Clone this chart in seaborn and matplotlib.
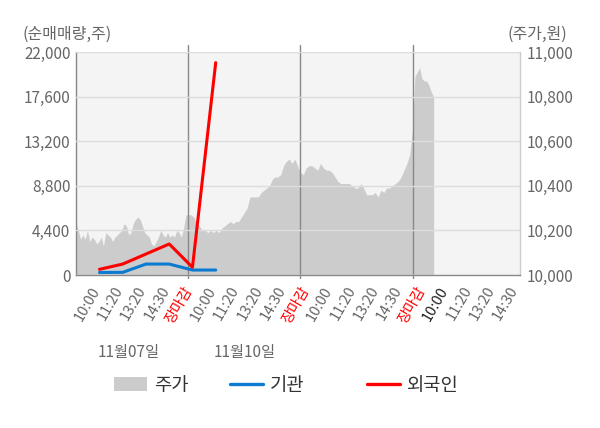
import matplotlib
matplotlib.use("Agg")
import matplotlib.pyplot as plt
import seaborn as sns
import numpy as np
import pandas as pd
from matplotlib.patches import Patch
from matplotlib.lines import Line2D
from matplotlib import transforms

sns.set_theme(style="white")
plt.rcParams["font.family"] = ["Noto Sans CJK KR", "DejaVu Sans"]

# ---------------- data ----------------
tick_labels = ["10:00", "11:20", "13:20", "14:30", "장마감",
               "10:00", "11:20", "13:20", "14:30", "장마감",
               "10:00", "11:20", "13:20", "14:30", "장마감",
               "10:00", "11:20", "13:20", "14:30"]
dates = ["11월07일", "11월10일"]
date_slots = [0, 5]

inst_net = [250, 260, 1080, 1080, 490, 490]          # 기관
foreign_net = [560, 1080, 2070, 3060, 760, 20950]    # 외국인

left_ticks = [0, 4400, 8800, 13200, 17600, 22000]
right_ticks = [10000, 10200, 10400, 10600, 10800, 11000]

price_day1 = [10230, 10200, 10160, 10180, 10160, 10200, 10150, 10170, 10160, 10140,
              10150, 10170, 10130, 10190, 10180, 10170, 10150, 10170, 10180, 10190,
              10200, 10230, 10220, 10180, 10190, 10230, 10250, 10260, 10250, 10220,
              10190, 10180, 10170, 10140, 10130, 10150, 10170, 10200, 10180, 10170,
              10190, 10170, 10180, 10170, 10200, 10190, 10170, 10210, 10270]
price_day2 = [10270, 10270, 10260, 10230, 10220, 10200, 10200, 10190, 10200, 10190,
              10200, 10190, 10210, 10220, 10230, 10240, 10230, 10240, 10240, 10260,
              10280, 10300, 10350, 10350, 10350, 10350, 10370, 10380, 10390, 10400,
              10430, 10440, 10440, 10450, 10490, 10510, 10520, 10500, 10520, 10490]
price_day3 = [10460, 10450, 10480, 10490, 10490, 10480, 10470, 10500, 10480, 10470,
              10470, 10460, 10440, 10420, 10410, 10410, 10410, 10410, 10400, 10390,
              10390, 10410, 10390, 10360, 10360, 10360, 10370, 10350, 10380, 10370,
              10390, 10390, 10400, 10410, 10420, 10440, 10470, 10500, 10540]
price_day4 = [10660, 10890, 10910, 10930, 10880, 10870, 10870, 10850, 10820, 10800]

full_days = [price_day1, price_day2, price_day3]
partial_day = price_day4
samples_per_day = 48

# ---------------- build price series ----------------
px, py = [], []
for d, vals in enumerate(full_days):
    n = len(vals)
    px.extend(d + np.arange(n) / n)
    py.extend(vals)
px.extend(len(full_days) + np.arange(len(partial_day)) / samples_per_day)
py.extend(partial_day)
price_df = pd.DataFrame({"x": px, "price": py})

slots = np.arange(len(inst_net))
flow_df = pd.DataFrame({"slot": slots, "기관": inst_net, "외국인": foreign_net})

# ---------------- figure ----------------
W, H = 600, 428
fig = plt.figure(figsize=(W / 100, H / 100), dpi=100)
fig.patch.set_facecolor("white")
rect = [76 / W, 1 - 275 / H, 444 / W, 223 / H]

ax_p = fig.add_axes(rect, zorder=1)
ax_l = fig.add_axes(rect, zorder=2)
ax_l.patch.set_alpha(0)

# price area (background axis)
ax_p.set_facecolor("#f4f4f4")
ax_p.fill_between(price_df["x"], 10000, price_df["price"], color="#cccccc", lw=0)
ax_p.set_xlim(0, 3.957)
ax_p.set_ylim(10000, 11000)
ax_p.yaxis.tick_right()
ax_p.set_yticks(right_ticks)
ax_p.set_yticklabels([f"{v:,}" for v in right_ticks])
ax_p.tick_params(axis="y", length=0, pad=5, labelsize=11, labelcolor="#666666")
ax_p.set_xticks([])
for s in ["top", "left", "bottom"]:
    ax_p.spines[s].set_visible(False)
ax_p.spines["right"].set_color("#cccccc")
ax_p.spines["right"].set_linewidth(1)
for d in range(1, 4):
    ax_p.axvline(d, ymin=-0.013, ymax=1.031, color="#888888", lw=1, clip_on=False, zorder=5)

# flow lines (front axis)
sns.lineplot(data=flow_df, x="slot", y="기관", ax=ax_l, color="#0a7bd0", lw=2.2, zorder=6)
sns.lineplot(data=flow_df, x="slot", y="외국인", ax=ax_l, color="#ff0000", lw=2.2, zorder=7)
ax_l.set_xlim(-1.01, 18.09)
ax_l.set_ylim(0, 22000)
ax_l.set_yticks(left_ticks)
ax_l.set_yticklabels([f"{v:,}" for v in left_ticks])
ax_l.yaxis.grid(True, color="#dcdcdc", lw=1)
ax_l.xaxis.grid(False)
ax_l.set_axisbelow(False)
ax_l.set_xlabel("")
ax_l.set_ylabel("")
ax_l.tick_params(axis="y", length=0, pad=4, labelsize=11, labelcolor="#666666")
ax_l.set_xticks(np.arange(len(tick_labels)))
ax_l.set_xticklabels(tick_labels)
ax_l.tick_params(axis="x", length=0, pad=9, labelsize=10.5)
offset = transforms.ScaledTranslation(-3 / 100, 0, fig.dpi_scale_trans)
for i, lab in enumerate(ax_l.get_xticklabels()):
    lab.set_rotation(60)
    lab.set_ha("right")
    lab.set_va("center")
    lab.set_rotation_mode("anchor")
    lab.set_transform(lab.get_transform() + offset)
    txt = tick_labels[i]
    if txt == "장마감":
        lab.set_color("#ff0000")
    elif i == 15:
        lab.set_color("#222222")
    else:
        lab.set_color("#666666")
for s in ["top", "right"]:
    ax_l.spines[s].set_visible(False)
for s in ["left", "bottom"]:
    ax_l.spines[s].set_color("#888888")
    ax_l.spines[s].set_linewidth(1)

# date labels
btr = transforms.blended_transform_factory(ax_l.transData, fig.transFigure)
for dlab, ds in zip(dates, date_slots):
    ax_l.text(ds - 0.07, 1 - 352 / H, dlab, transform=btr, ha="left", va="center",
              fontsize=11, color="#666666")

# axis headers
fig.text(22 / W, 1 - 34 / H, "(순매매량,주)", ha="left", va="center", fontsize=11.5, color="#666666")
fig.text(567 / W, 1 - 34 / H, "(주가,원)", ha="right", va="center", fontsize=11.5, color="#666666")

# legend (three separately placed entries)
ly = 1 - 385 / H
entries = [
    (Patch(facecolor="#cccccc", edgecolor="none"), "주가", 114),
    (Line2D([], [], color="#0a7bd0", lw=2.4), "기관", 230),
    (Line2D([], [], color="#ff0000", lw=2.4), "외국인", 367),
]
for h, lab, xpix in entries:
    leg = fig.legend(handles=[h], labels=[lab], loc="center left",
                     bbox_to_anchor=(xpix / W, ly), frameon=False, fontsize=13.5,
                     handlelength=1.75, handleheight=0.75, handletextpad=0.4,
                     borderpad=0, borderaxespad=0)
    for t in leg.get_texts():
        t.set_color("#333333")

fig.savefig("out.png", dpi=100, facecolor="white")
